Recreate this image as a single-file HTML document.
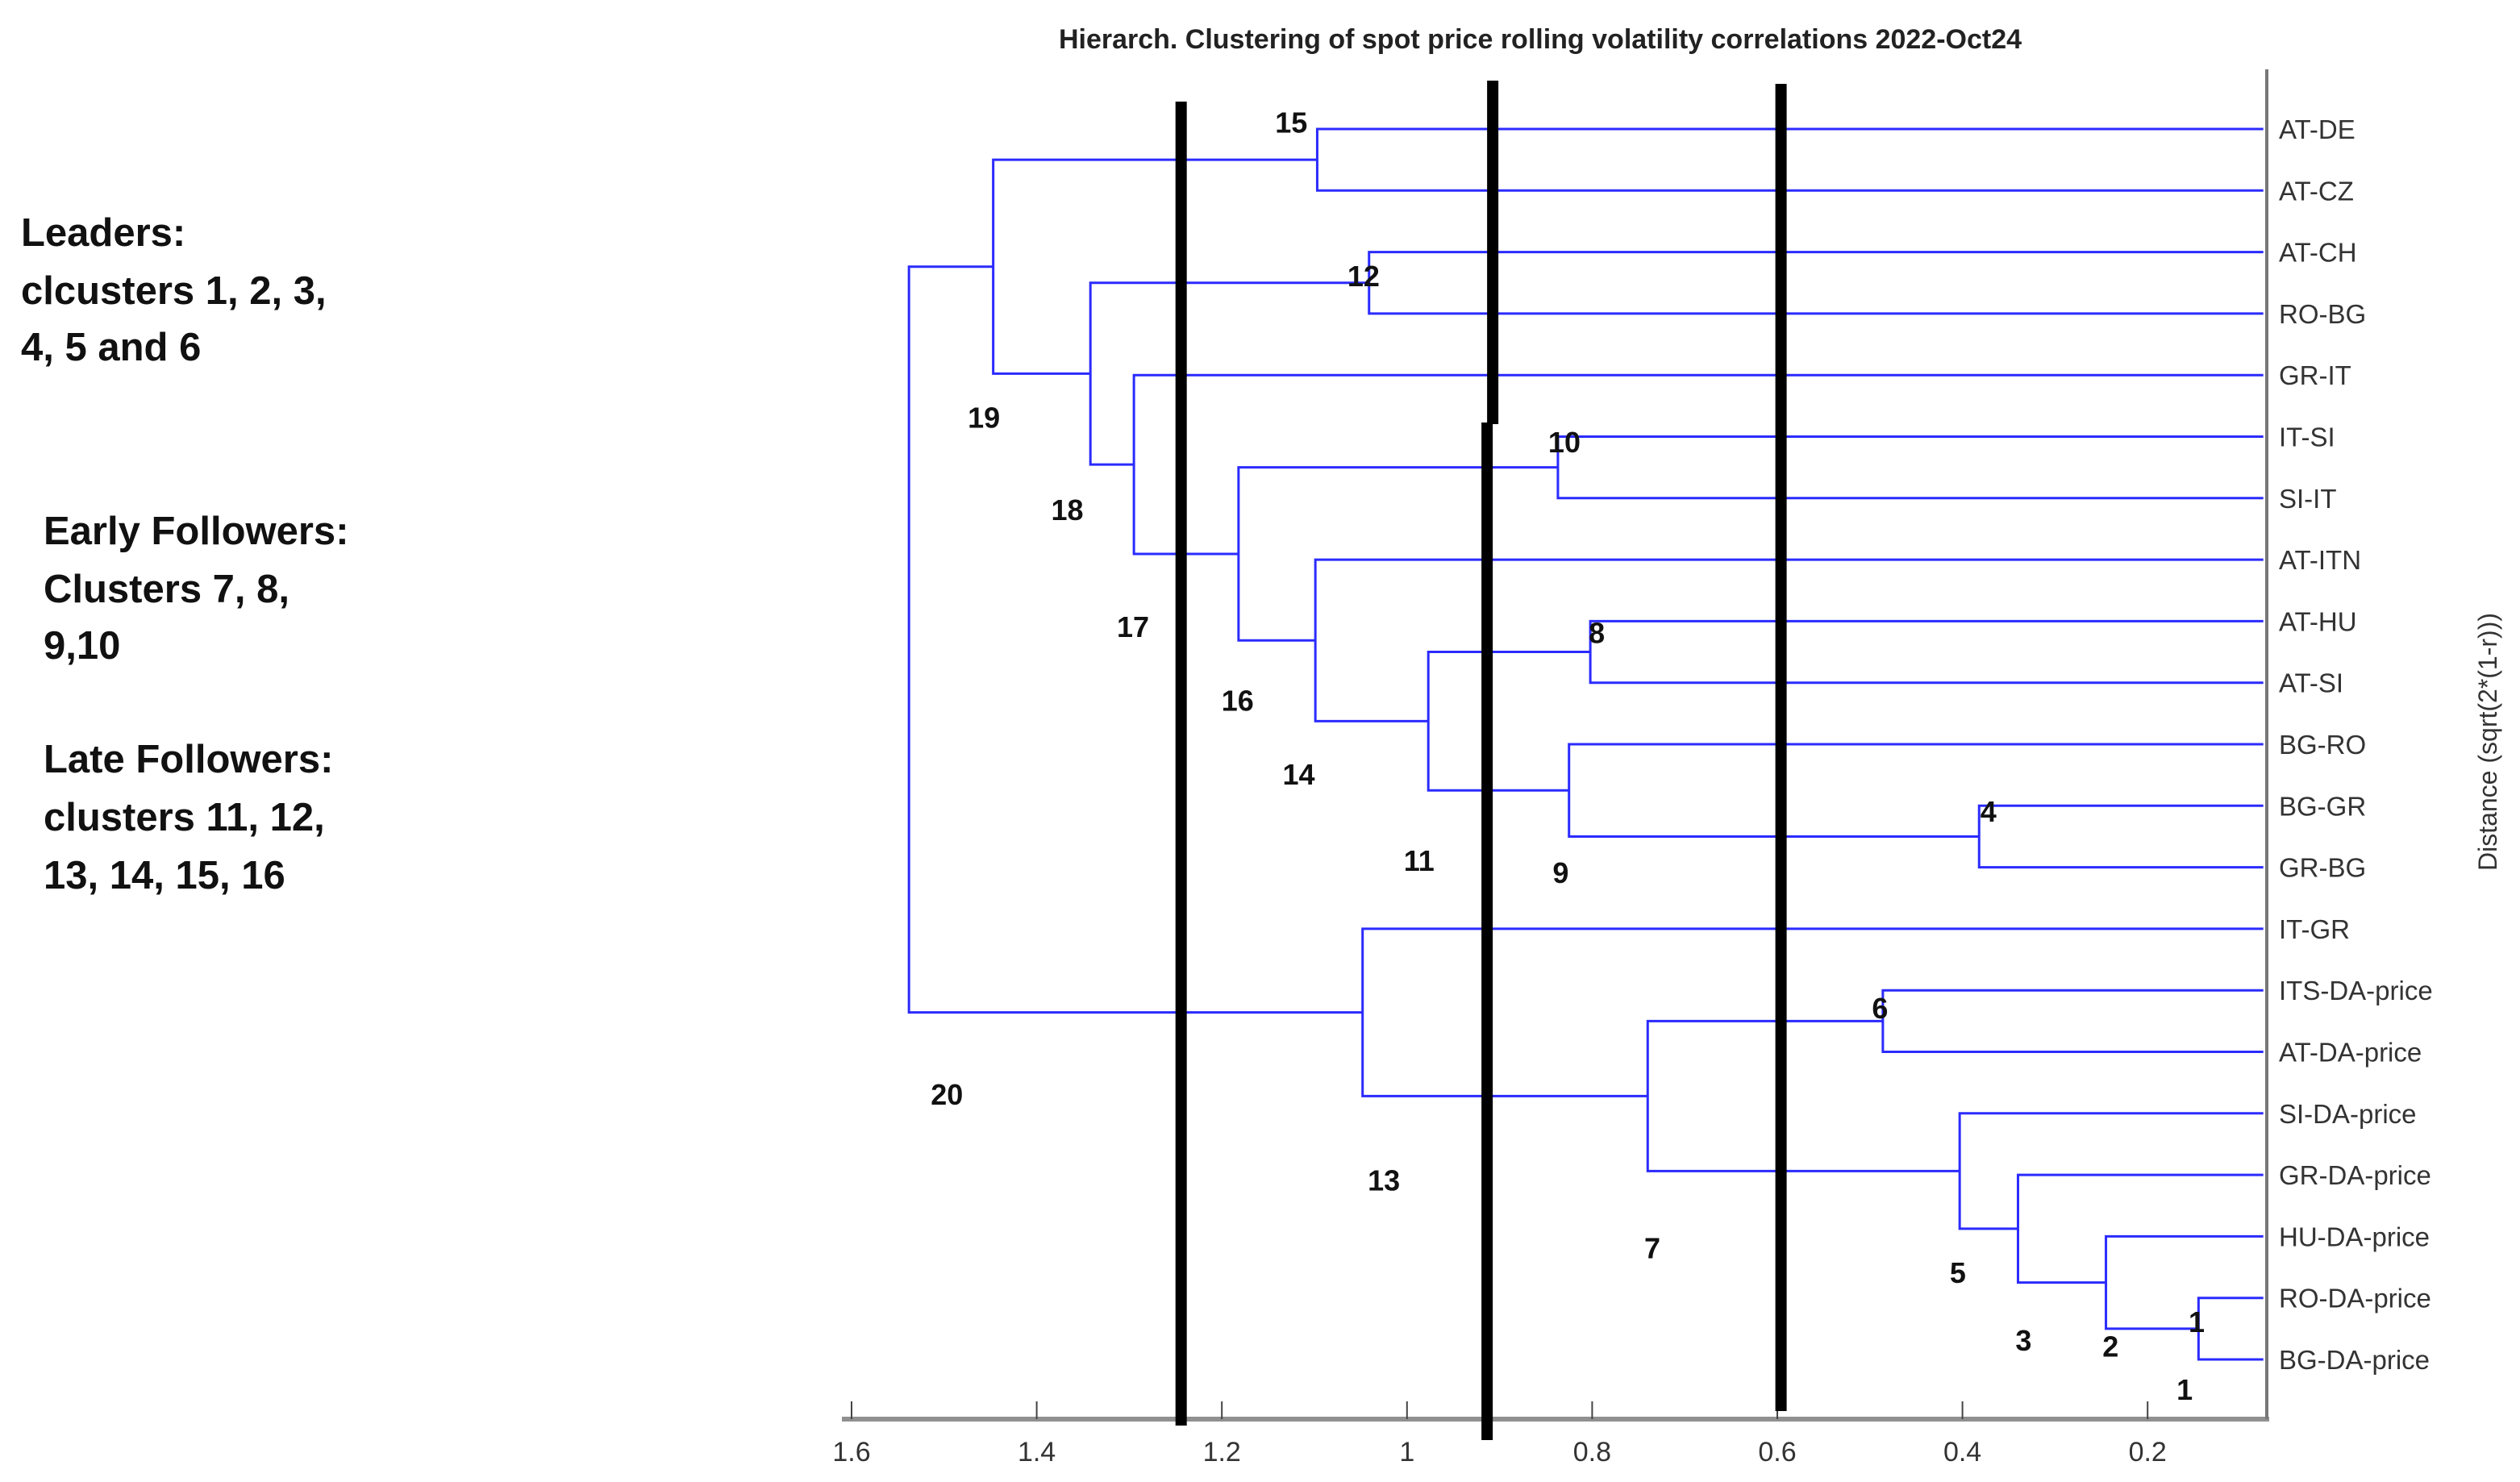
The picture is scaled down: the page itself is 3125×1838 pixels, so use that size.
<!DOCTYPE html>
<html><head><meta charset="utf-8"><style>
html,body{margin:0;padding:0;background:#fff;}
svg{display:block;}
</style></head><body>
<svg id="chart" width="3125" height="1838" viewBox="0 0 3125 1838" xmlns="http://www.w3.org/2000/svg" font-family="Liberation Sans, Arial, sans-serif">
  <text x="1910" y="60" font-size="34" font-weight="bold" fill="#222" text-anchor="middle">Hierarch. Clustering of spot price rolling volatility correlations 2022-Oct24</text>
  <g font-size="49" font-weight="bold" fill="#111">
    <text x="26" y="305">Leaders:</text>
    <text x="26" y="377">clcusters 1, 2, 3,</text>
    <text x="26" y="447">4, 5 and 6</text>
  </g>
  <g font-size="49" font-weight="bold" fill="#111">
    <text x="54" y="675">Early Followers:</text>
    <text x="54" y="747">Clusters 7, 8,</text>
    <text x="54" y="817">9,10</text>
  </g>
  <g font-size="49" font-weight="bold" fill="#111">
    <text x="54" y="958">Late Followers:</text>
    <text x="54" y="1030">clusters 11, 12,</text>
    <text x="54" y="1102">13, 14, 15, 16</text>
  </g>
  <text transform="translate(3096,920) rotate(-90)" font-size="32" fill="#333" text-anchor="middle">Distance (sqrt(2*(1-r)))</text>
  <g id="plot"></g>
</svg>
<script>
const leaves = ["AT-DE","AT-CZ","AT-CH","RO-BG","GR-IT","IT-SI","SI-IT","AT-ITN","AT-HU","AT-SI","BG-RO","BG-GR","GR-BG","IT-GR","ITS-DA-price","AT-DA-price","SI-DA-price","GR-DA-price","HU-DA-price","RO-DA-price","BG-DA-price"];
const mergeLeft  = [19,18,17,16,14,11,8,10,5,27,25,2,13,0,7,29,4,32,34,39];
const mergeRight = [20,21,22,23,15,12,9,26,6,28,24,3,31,1,30,35,36,37,38,33];
const mergeHeight = [0.145,0.245,0.34,0.403,0.486,0.382,0.802,0.825,0.837,0.977,0.74,1.041,1.048,1.097,1.099,1.182,1.295,1.342,1.447,1.538];
const xTicks = [1.6,1.4,1.2,1,0.8,0.6,0.4,0.2];
const xTickLabels = ["1.6","1.4","1.2","1","0.8","0.6","0.4","0.2"];
const cutValues = [1.244,0.91,0.596];
const clusterLabels = ["15","12","19","10","18","17","8","16","14","4","11","9","6","20","13","7","5","3","2","1","1"];
const clusterLabelX = [1.125,1.047,1.457,0.83,1.367,1.296,0.795,1.183,1.117,0.372,0.987,0.834,0.489,1.497,1.025,0.735,0.405,0.334,0.24,0.147,0.16];
const clusterLabelRow = [-0.1,2.4,4.7,5.1,6.2,8.1,8.2,9.3,10.5,11.1,11.9,12.1,14.3,15.7,17.1,18.2,18.6,19.7,19.8,19.4,20.5];

const NS="http://www.w3.org/2000/svg";
const plot=document.getElementById('plot');
const X0=1056, PER=229.6/0.2, XR=2808, Y0=160, DY=76.3, AXY=1760;
function xs(v){return X0+(1.6-v)*PER;}
function ys(i){return Y0+i*DY;}
function mk(tag,attrs){const e=document.createElementNS(NS,tag);for(const k in attrs)e.setAttribute(k,attrs[k]);plot.appendChild(e);return e;}

let ax=mk('line',{x1:X0-12,y1:AXY,x2:XR+6,y2:AXY,stroke:'#909090','stroke-width':6});


let ay=mk('line',{x1:XR+3,y1:86,x2:XR+3,y2:AXY,stroke:'#777','stroke-width':4});


xTicks.forEach((v,i)=>{
  const t=mk('line',{x1:xs(v),y1:AXY,x2:xs(v),y2:AXY-22,stroke:'#444','stroke-width':2});
  
  
  const l=mk('text',{x:xs(v),y:AXY+52,'font-size':34,fill:'#333','text-anchor':'middle'});
  
  
  l.textContent=xTickLabels[i];
});

const nodeY=[],nodeH=[];
leaves.forEach((n,i)=>{nodeY[i]=ys(i);nodeH[i]=0.075;
  const t=mk('text',{x:XR+18,y:ys(i)+12,'font-size':33,fill:'#333'});
  
  
  t.textContent=n;
});
mergeHeight.forEach((h,k)=>{
  const a=mergeLeft[k],b=mergeRight[k],id=leaves.length+k;
  const xh=xs(h);
  const p=mk('path',{d:`M${xs(nodeH[a])},${nodeY[a]}H${xh}V${nodeY[b]}H${xs(nodeH[b])}`,fill:'none',stroke:'#2b2bff','stroke-width':3});
  
  
  nodeY[id]=(nodeY[a]+nodeY[b])/2;nodeH[id]=h;
});

const cutY1=[126,100,104], cutY2=[1768,1786,1750];
cutValues.forEach((v,i)=>{
  const x=xs(v);
  if(i===1){
    const c1=mk('line',{x1:x+3,y1:cutY1[i],x2:x+3,y2:526,stroke:'#000','stroke-width':14});
    
    
    const c2=mk('line',{x1:x-4,y1:524,x2:x-4,y2:cutY2[i],stroke:'#000','stroke-width':14});
    
    
  } else {
    const c=mk('line',{x1:x,y1:cutY1[i],x2:x,y2:cutY2[i],stroke:'#000','stroke-width':14});
    
    
  }
});

clusterLabels.forEach((s,i)=>{
  const t=mk('text',{x:xs(clusterLabelX[i]),y:ys(clusterLabelRow[i])+12,'font-size':36,'font-weight':'bold',fill:'#111','text-anchor':'middle'});
  
  
  t.textContent=s;
});
</script>
</body></html>
